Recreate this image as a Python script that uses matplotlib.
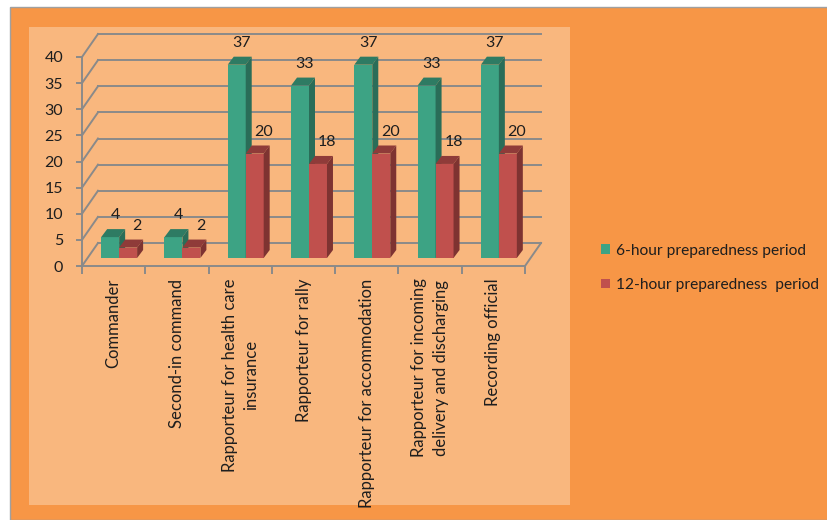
import matplotlib.pyplot as plt
from matplotlib.patches import Rectangle, Polygon
import numpy as np

plt.rcParams['font.family'] = ['Lato', 'DejaVu Sans']

categories = ["Commander", "Second-in command", "Rapporteur for health care\ninsurance",
              "Rapporteur for rally", "Rapporteur for accommodation",
              "Rapporteur for incoming\ndelivery and discharging", "Recording official"]
six_hour = [4, 4, 37, 33, 37, 33, 37]
twelve_hour = [2, 2, 20, 18, 20, 18, 20]
series_names = ["6-hour preparedness period", "12-hour preparedness  period"]

W, H, DPI = 828, 520, 100
orange = '#F79646'
peach = '#F9B77E'
grid_c = '#8A8A8A'
txt_c = '#1E1E1E'
green = ('#3DA384', '#2E7B63', '#2A6D58')   # front, top, side
red = ('#C0504D', '#8F3B39', '#7E3331')

fig = plt.figure(figsize=(W / DPI, H / DPI), dpi=DPI, facecolor='white')
fig.patches.append(Rectangle((10 / W, 0), 1, (H - 7) / H, transform=fig.transFigure,
                             facecolor=orange, edgecolor='#A0A0A0', lw=1, zorder=-2))
fig.patches.append(Rectangle((29 / W, 15 / H), (570 - 29) / W, (505 - 27) / H,
                             transform=fig.transFigure, facecolor=peach, edgecolor='none', zorder=-1))

# front plane of the 3d box
x0px, x1px, y0px, y1px = 82, 525, 266, 57
ax = fig.add_axes([x0px / W, (H - y0px) / H, (x1px - x0px) / W, (y0px - y1px) / H])
ax.set_facecolor('none')
n = len(categories)
ymax = 40
ax.set_xlim(-0.5, n - 0.5)
ax.set_ylim(0, ymax)

# pixel -> data conversions
cx = n / (x1px - x0px)
cy = ymax / (y0px - y1px)

# back wall, bar plane and bar depth offsets (pixels)
wall_dx, wall_dy = 16 * cx, 23 * cy
plane_dx, plane_dy = 5.5 * cx, 8 * cy
depth_dx, depth_dy = 6 * cx, 8 * cy

ticks = np.arange(0, ymax + 1, 5)
for v in ticks:
    ax.plot([-0.5, -0.5 + wall_dx], [v, v + wall_dy], color=grid_c, lw=1.4, clip_on=False, zorder=1)
    ax.plot([-0.5 + wall_dx, n - 0.5 + wall_dx], [v + wall_dy, v + wall_dy], color=grid_c, lw=1.4,
            clip_on=False, zorder=1)
ax.plot([n - 0.5, n - 0.5 + wall_dx], [0, wall_dy], color=grid_c, lw=1.4, clip_on=False, zorder=1)

for s in ['top', 'right']:
    ax.spines[s].set_visible(False)
for s in ['left', 'bottom']:
    ax.spines[s].set_color(grid_c)
    ax.spines[s].set_linewidth(1.4)

ax.set_yticks(ticks)
ax.tick_params(axis='y', direction='out', length=4, color=grid_c, width=1.4, labelsize=11.5,
               labelcolor=txt_c, pad=9.5)
ax.set_xticks(np.arange(-0.5, n, 1), [''] * (n + 1))
ax.tick_params(axis='x', which='major', direction='out', length=6, color=grid_c, width=1.4)
ax.set_xticks(np.arange(n), categories, minor=True)
ax.tick_params(axis='x', which='minor', length=0, pad=9, labelsize=12, labelcolor=txt_c, labelrotation=90)
for lbl in ax.get_xticklabels(minor=True):
    lbl.set_multialignment('center')
    lbl.set_linespacing(1.4)

bw = 0.284
x = np.arange(n)


def bar3d(xs, vals, cols, z, lab_dx, name):
    ax.bar(xs + plane_dx, vals, bw, bottom=plane_dy, align='edge', color=cols[0], zorder=z,
           clip_on=False, label=name)
    for xi, v in zip(xs, vals):
        xl = xi + plane_dx
        top = v + plane_dy
        ax.add_patch(Polygon([(xl, top), (xl + bw, top), (xl + bw + depth_dx, top + depth_dy),
                              (xl + depth_dx, top + depth_dy)], closed=True, facecolor=cols[1],
                             edgecolor='none', zorder=z, clip_on=False))
        ax.add_patch(Polygon([(xl + bw, plane_dy), (xl + bw + depth_dx, plane_dy + depth_dy),
                              (xl + bw + depth_dx, top + depth_dy), (xl + bw, top)], closed=True,
                             facecolor=cols[2], edgecolor='none', zorder=z, clip_on=False))
        ax.annotate(str(v), (xl + bw / 2, top), xytext=(lab_dx, 22), textcoords='offset pixels',
                    ha='center', va='center', fontsize=11.5, color=txt_c, zorder=6, annotation_clip=False)


bar3d(x - bw, six_hour, green, 3, 5, series_names[0])
bar3d(x, twelve_hour, red, 4, 9, series_names[1])

handles = [Rectangle((0, 0), 1, 1, facecolor=green[0]), Rectangle((0, 0), 1, 1, facecolor=red[0])]
fig.legend(handles, series_names, loc='upper left', bbox_to_anchor=(593 / W, 1 - 236 / H),
           frameon=False, handlelength=0.6, handleheight=0.6, handletextpad=0.35,
           labelspacing=1.3, fontsize=11.2, labelcolor=txt_c, borderpad=0)

fig.savefig('out.png', dpi=DPI, facecolor=fig.get_facecolor())
